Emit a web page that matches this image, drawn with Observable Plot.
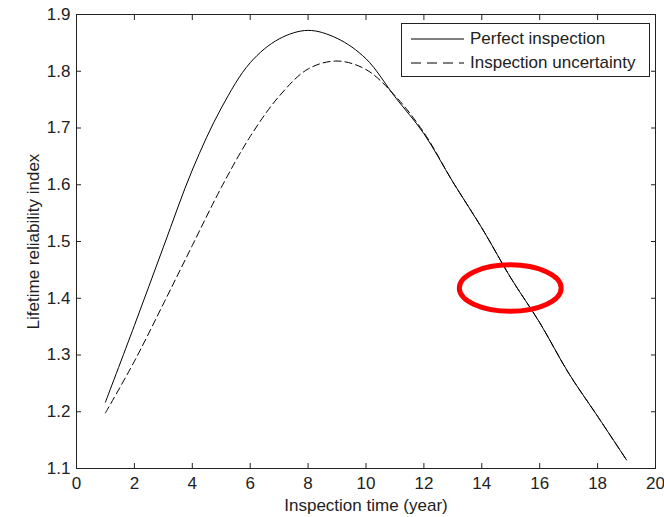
<!DOCTYPE html>
<html><head><meta charset="utf-8">
<script src="https://cdn.jsdelivr.net/npm/d3@7"></script>
<script src="https://cdn.jsdelivr.net/npm/@observablehq/plot@0.6"></script>
<style>
body{margin:0;background:#fff}
#wrap{position:relative;width:664px;height:517px;font-family:"Liberation Sans",Arial,sans-serif;color:#222}
#legend{position:absolute;left:401px;top:23px;width:249px;height:54px;border:1px solid #222;background:#fff;box-sizing:border-box;font-size:17px}
.row{position:absolute;left:0;height:20px;display:flex;align-items:center}
.row svg{margin-left:9px;margin-right:6px}
</style>
</head><body><div id="wrap"><div id="legend"></div></div>
<script>
// ---- data ----
const years = [1,2,3,4,5,6,7,8,9,10,11,12,13,14,15,16,17,18,19];
const perfect = [1.217,1.352,1.490,1.626,1.735,1.815,1.857,1.872,1.858,1.822,1.755,1.690,1.605,1.524,1.436,1.357,1.268,1.192,1.115];
const uncertain = [1.198,1.289,1.390,1.493,1.595,1.685,1.756,1.804,1.818,1.803,1.757,1.692,1.605,1.524,1.436,1.357,1.268,1.192,1.115];
const seriesNames = ["Perfect inspection","Inspection uncertainty"];
const xTicks = [0,2,4,6,8,10,12,14,16,18,20];
const yTicks = [1.1,1.2,1.3,1.4,1.5,1.6,1.7,1.8,1.9];
const xLabel = "Inspection time (year)";
const yLabel = "Lifetime reliability index";
// highlighted region (center x, center y, radius x, radius y) in data units
const markCenter = [15.0, 1.417];
const markRadius = [1.76, 0.041];

const rows = [
  ...years.map((t,i)=>({t, v: perfect[i], s: seriesNames[0]})),
  ...years.map((t,i)=>({t, v: uncertain[i], s: seriesNames[1]}))
];
const dashes = "7,4";
const ink = "#222";

const ellipseMark = (index, scales) => {
  const svgns = "http://www.w3.org/2000/svg";
  const e = document.createElementNS(svgns, "ellipse");
  const cx = scales.x(markCenter[0]), cy = scales.y(markCenter[1]);
  e.setAttribute("cx", cx);
  e.setAttribute("cy", cy);
  e.setAttribute("rx", Math.abs(scales.x(markCenter[0] + markRadius[0]) - cx));
  e.setAttribute("ry", Math.abs(scales.y(markCenter[1] + markRadius[1]) - cy));
  e.setAttribute("fill", "none");
  e.setAttribute("stroke", "#f00");
  e.setAttribute("stroke-width", 5);
  return e;
};

const chart = Plot.plot({
  width: 664, height: 517,
  marginLeft: 76, marginRight: 9, marginTop: 14, marginBottom: 49,
  style: {fontFamily: '"Liberation Sans", Arial, sans-serif', fontSize: "17px", color: ink, background: "#fff", overflow: "visible"},
  x: {domain: [0, 20], label: null},
  y: {domain: [1.1, 1.9], label: null},
  marks: [
    Plot.line(rows.filter(d=>d.s===seriesNames[0]), {x: "t", y: "v", stroke: "#000", strokeWidth: 1, curve: "catmull-rom"}),
    Plot.line(rows.filter(d=>d.s===seriesNames[1]), {x: "t", y: "v", stroke: "#000", strokeWidth: 1, strokeDasharray: dashes, curve: "catmull-rom"}),
    ellipseMark,
    Plot.frame({stroke: ink}),
    // tick labels
    Plot.axisX(xTicks, {anchor: "bottom", tickSize: 0, tickPadding: 8, tickFormat: d => String(d), label: null, fill: ink}),
    Plot.axisY(yTicks, {anchor: "left", tickSize: 0, tickPadding: 6, tickFormat: d => d.toFixed(1), label: null, fill: ink}),
    // inward ticks on all four sides
    Plot.axisX(xTicks, {anchor: "bottom", tickSize: 5, dy: -5, tickFormat: () => "", label: null, stroke: ink}),
    Plot.axisX(xTicks, {anchor: "top", tickSize: 5, dy: 5, tickFormat: () => "", label: null, stroke: ink}),
    Plot.axisY(yTicks, {anchor: "left", tickSize: 5, dx: 5, tickFormat: () => "", label: null, stroke: ink}),
    Plot.axisY(yTicks, {anchor: "right", tickSize: 5, dx: -5, tickFormat: () => "", label: null, stroke: ink}),
    // axis titles
    Plot.text([xLabel], {text: d => d, frameAnchor: "bottom", lineAnchor: "middle", textAnchor: "middle", dy: 37, fill: ink, fontSize: 17}),
    Plot.text([yLabel], {text: d => d, frameAnchor: "left", lineAnchor: "middle", textAnchor: "middle", dx: -43, rotate: -90, fill: ink, fontSize: 17})
  ]
});
const wrap = document.getElementById("wrap");
wrap.insertBefore(chart, wrap.firstChild);

// legend
const legend = document.getElementById("legend");
seriesNames.forEach((name, i) => {
  const row = document.createElement("div");
  row.className = "row";
  row.style.top = (i === 0 ? 5 : 29) + "px";
  row.innerHTML = `<svg width="53" height="10"><line x1="0" x2="53" y1="5" y2="5" stroke="#000" stroke-width="1" ${i ? `stroke-dasharray="10,6"` : ""}/></svg><span>${name}</span>`;
  legend.appendChild(row);
});
</script>
</body></html>
